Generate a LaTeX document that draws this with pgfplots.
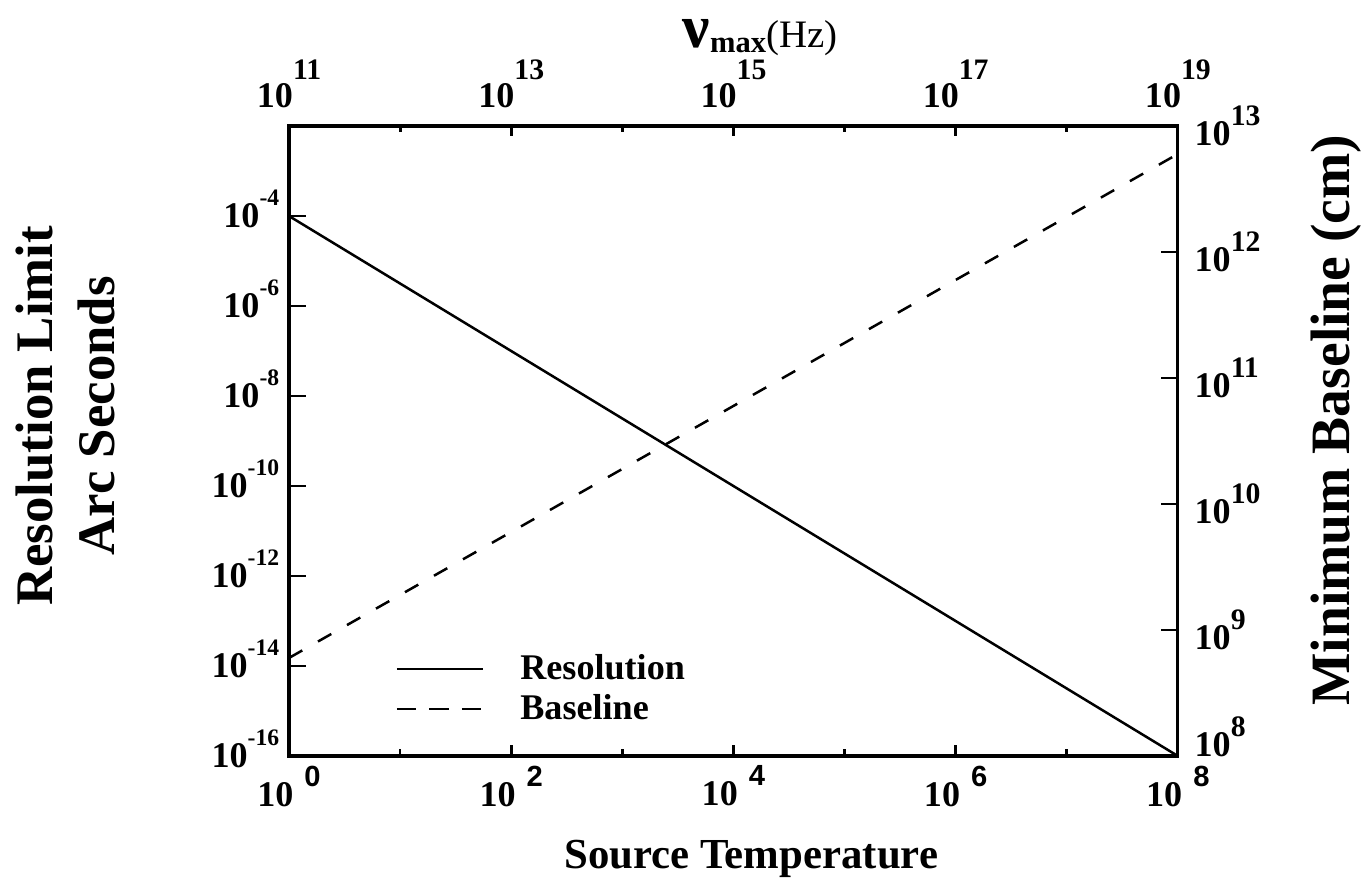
\documentclass[border=0pt]{standalone}
\usepackage{fontspec}
\setmainfont{Liberation Serif}
\newfontfamily\sansf{Liberation Sans}
\usepackage{pgfplots}
\pgfplotsset{compat=1.18}

\newcommand{\lt}[1]{\textbf{10}\raisebox{7.8pt}{\fontsize{8.5}{9}\selectfont\bfseries #1}}
\newcommand{\rt}[1]{\textbf{10}\raisebox{7.2pt}{\fontsize{10.7}{11}\selectfont\bfseries #1}}
\newcommand{\tp}[1]{\textbf{10}\raisebox{10pt}{\fontsize{10.7}{11}\selectfont\bfseries #1}}
\newcommand{\bt}[1]{\textbf{10}\hspace{4pt}\raisebox{7.2pt}{\fontsize{10.5}{11}\selectfont\sansf #1}}

\pgfplotsset{
  commonax/.style={
    scale only axis, width=320pt, height=226.8pt,
    at={(0pt,0pt)}, anchor=south west,
    axis line style={line width=1.1pt, black},
    tick style={line width=1pt, black},
    tick align=inside,
    ticklabel style={font=\fontsize{13}{14}\selectfont\bfseries},
  }
}

\begin{document}
\begin{tikzpicture}
\useasboundingbox (-104.04pt,-45pt) rectangle (386.28pt,272.16pt);

% left axis: resolution
\begin{loglogaxis}[commonax,
  xmin=1, xmax=1e8, ymin=1e-16, ymax=1e-2,
  axis lines=box,
  xtick=\empty,
  ytick pos=left,
  ytick={1e-16,1e-14,1e-12,1e-10,1e-8,1e-6,1e-4},
  yticklabels={\lt{-16},\lt{-14},\lt{-12},\lt{-10},\lt{-8},\lt{-6},\lt{-4}},
  yticklabel style={yshift=2.5pt},
  major tick length=6pt, minor tick length=0pt,
  ylabel={Resolution Limit\\Arc Seconds},
  ylabel style={at={(axis description cs:-0.252,0.54)}, anchor=center,
    align=center, font=\fontsize{19}{22.3}\selectfont\bfseries},
]
\addplot[black, line width=0.9pt] coordinates {(1,1e-4) (1e8,1e-16)};
\end{loglogaxis}

% bottom axis: source temperature
\begin{loglogaxis}[commonax,
  xmin=1, xmax=1e8, ymin=1, ymax=10,
  axis x line*=bottom, axis y line=none,
  xtick={1,100,1e4,1e6,1e8},
  minor xtick={10,1000,1e5,1e7},
  xticklabels={\bt{0},\bt{2},\bt{4},\bt{6},\bt{8}},
  major tick length=4pt, minor tick length=2.5pt,
  xlabel={Source Temperature},
  xlabel style={at={(axis description cs:0.52,-0.178)}, anchor=base,
    font=\fontsize{15.4}{16}\selectfont\bfseries},
]
\end{loglogaxis}

% right axis: baseline
\begin{loglogaxis}[commonax,
  xmin=1, xmax=1e8, ymin=1e8, ymax=1e13,
  axis x line=none, axis y line*=right,
  ytick={1e9,1e10,1e11,1e12,1e13},
  yticklabels={\rt{9},\rt{10},\rt{11},\rt{12},\rt{13}},
  extra y ticks={1e8},
  extra y tick labels={\rt{8}},
  extra y tick style={yticklabel style={yshift=7pt}},
  yticklabel style={xshift=2.5pt},
  major tick length=6pt, minor tick length=0pt,
  ylabel={Minimum Baseline (cm)},
  ylabel style={at={(axis description cs:1.178,0.533)}, anchor=center,
    font=\fontsize{20}{21}\selectfont\bfseries},
  legend image code/.code={\draw[#1] (0pt,0pt) -- (31pt,0pt);},
  legend cell align=left,
  legend style={draw=none, fill=none, at={(axis description cs:0.11,0.18)},
    anchor=north west, font=\fontsize{13}{14}\selectfont\bfseries,
    row sep=0pt, column sep=11pt},
]
\addplot[black, line width=0.9pt, dash pattern=on 5.5pt off 6.5pt, forget plot] coordinates {(1,6e8) (1e8,6e12)};
\addlegendimage{black, line width=0.9pt}
\addlegendentry{Resolution}
\addlegendimage{black, line width=0.9pt, dash pattern=on 7pt off 4.7pt}
\addlegendentry{Baseline}
\end{loglogaxis}

% top axis: frequency
\begin{loglogaxis}[commonax,
  xmin=1e11, xmax=1e19, ymin=1, ymax=10,
  axis x line*=top, axis y line=none,
  xtick={1e11,1e13,1e15,1e17,1e19},
  minor xtick={1e12,1e14,1e16,1e18},
  xticklabels={\tp{11},\tp{13},\tp{15},\tp{17},\tp{19}},
  xticklabel style={yshift=3pt},
  major tick length=3.5pt, minor tick length=2pt,
  xlabel={{\fontsize{22}{22}\selectfont\bfseries ν}\raisebox{-1.5pt}{\fontsize{11}{12}\selectfont\bfseries max}{\fontsize{14}{15}\selectfont (Hz)}},
  xlabel style={at={(axis description cs:0.53,1.124)}, anchor=base},
]
\end{loglogaxis}
\end{tikzpicture}
\end{document}
